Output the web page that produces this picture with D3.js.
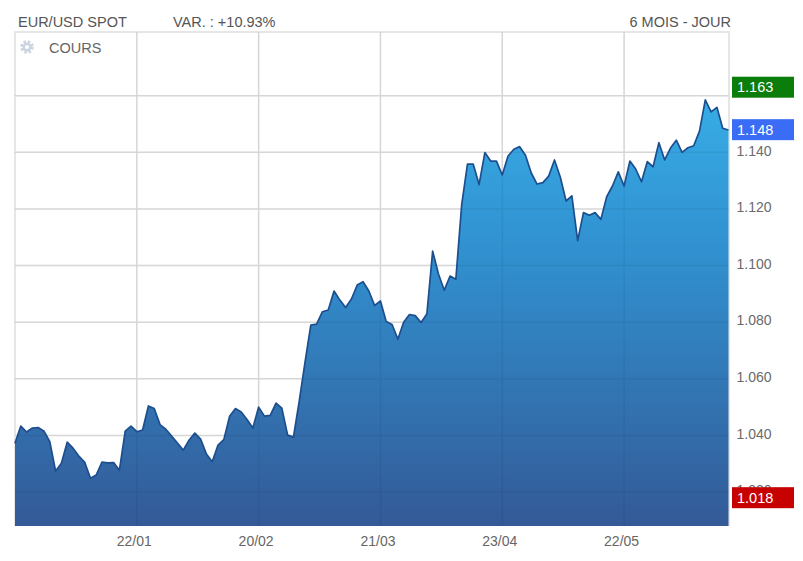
<!DOCTYPE html>
<html>
<head>
<meta charset="utf-8">
<script src="https://cdn.jsdelivr.net/npm/d3@7/dist/d3.min.js"></script>
<style>
  html, body { margin: 0; padding: 0; background: #ffffff; }
  svg { display: block; }
</style>
</head>
<body>
<svg id="chart" width="803" height="561"></svg>
<script>
// ---------------- DATA ----------------
const dates = [
  "20/12","23/12","24/12","26/12","27/12","30/12","31/12",
  "02/01","03/01","06/01","07/01","08/01","09/01","10/01","13/01","14/01","15/01","16/01","17/01","20/01","21/01","22/01","23/01","24/01","27/01","28/01","29/01","30/01","31/01",
  "03/02","04/02","05/02","06/02","07/02","10/02","11/02","12/02","13/02","14/02","17/02","18/02","19/02","20/02","21/02","24/02","25/02","26/02","27/02","28/02",
  "03/03","04/03","05/03","06/03","07/03","10/03","11/03","12/03","13/03","14/03","17/03","18/03","19/03","20/03","21/03","24/03","25/03","26/03","27/03","28/03","31/03",
  "01/04","02/04","03/04","04/04","07/04","08/04","09/04","10/04","11/04","14/04","15/04","16/04","17/04","22/04","23/04","24/04","25/04","28/04","29/04","30/04",
  "01/05","02/05","05/05","06/05","07/05","08/05","09/05","12/05","13/05","14/05","15/05","16/05","19/05","20/05","21/05","22/05","23/05","27/05","28/05","29/05","30/05",
  "02/06","03/06","04/06","05/06","06/06","09/06","10/06","11/06","12/06","13/06","16/06","17/06","18/06"
];

const closes = [
  1.0372,1.0433,1.0412,1.0426,1.0428,1.0415,1.0378,
  1.0274,1.0302,1.0376,1.0355,1.0327,1.0306,1.0249,1.0260,1.0306,1.0303,1.0304,1.0277,1.0415,1.0433,1.0413,1.0419,1.0504,1.0495,1.0438,1.0422,1.0398,1.0373,
  1.0348,1.0383,1.0408,1.0387,1.0334,1.0307,1.0366,1.0385,1.0468,1.0495,1.0483,1.0456,1.0426,1.0500,1.0468,1.0471,1.0514,1.0496,1.0401,1.0394,
  1.0521,1.0659,1.0790,1.0793,1.0837,1.0843,1.0910,1.0878,1.0852,1.0882,1.0931,1.0943,1.0910,1.0859,1.0875,1.0802,1.0792,1.0740,1.0800,1.0827,1.0823,
  1.0799,1.0829,1.1051,1.0970,1.0913,1.0963,1.0952,1.1214,1.1358,1.1358,1.1286,1.1399,1.1369,1.1369,1.1320,1.1387,1.1411,1.1420,1.1390,1.1327,
  1.1288,1.1293,1.1316,1.1373,1.1313,1.1228,1.1246,1.1088,1.1187,1.1178,1.1187,1.1163,1.1243,1.1281,1.1331,1.1281,1.1369,1.1341,1.1296,1.1367,1.1349,
  1.1434,1.1373,1.1415,1.1443,1.1400,1.1416,1.1423,1.1475,1.1585,1.1543,1.1559,1.1485,1.1479
];

const yTicks = [1.020, 1.040, 1.060, 1.080, 1.100, 1.120, 1.140, 1.160];
const yTickLabelsHidden = [1.160];   // covered by the high marker in the reference
const xTickLabels = ["22/01", "20/02", "21/03", "23/04", "22/05"];

const markerNames  = ["high", "last", "low"];
const markerValues = [1.163, 1.148, 1.018];

const headerTitle = "EUR/USD SPOT";
const headerVar = "VAR. : +10.93%";
const headerPeriod = "6 MOIS - JOUR";
const seriesName = "COURS";

// ---------------- STYLE / LAYOUT ----------------
const plot = { left: 15, right: 728.5, top: 32, bottom: 526 };
const markerColors = { high: "#0b7d0b", last: "#3b6cf5", low: "#c70000" };
const font = "'Liberation Sans', Arial, Helvetica, sans-serif";

const svg = d3.select("#chart");

const x = d3.scalePoint().domain(dates).range([plot.left, plot.right]).padding(0);
const y = d3.scaleLinear().domain([1.008, 1.1825]).range([plot.bottom, plot.top]);

// gradient
const defs = svg.append("defs");
const grad = defs.append("linearGradient")
  .attr("id", "areaGrad")
  .attr("gradientUnits", "userSpaceOnUse")
  .attr("x1", 0).attr("y1", plot.top).attr("x2", 0).attr("y2", plot.bottom);
grad.append("stop").attr("offset", "0%").attr("stop-color", "#39b8ef");
grad.append("stop").attr("offset", "45%").attr("stop-color", "#3190cf");
grad.append("stop").attr("offset", "100%").attr("stop-color", "#335a97");

// grid (under)
const gridColor = "#e3e3e3";
const gridG = svg.append("g");
gridG.selectAll("line.h").data(yTicks).enter().append("line")
  .attr("x1", plot.left).attr("x2", plot.right + 0.5)
  .attr("y1", d => y(d)).attr("y2", d => y(d))
  .attr("stroke", gridColor).attr("stroke-width", 1.5);
gridG.selectAll("line.v").data(xTickLabels).enter().append("line")
  .attr("x1", d => x(d)).attr("x2", d => x(d))
  .attr("y1", plot.top).attr("y2", plot.bottom)
  .attr("stroke", gridColor).attr("stroke-width", 1.5);

// frame
svg.append("path")
  .attr("d", `M${plot.left},${plot.bottom}V${plot.top}H${plot.right + 0.5}V${plot.bottom}`)
  .attr("fill", "none").attr("stroke", "#dedede").attr("stroke-width", 1.5);

// area + line
const series = dates.map((d, i) => ({ d, v: closes[i] }));
const area = d3.area().x(p => x(p.d)).y0(plot.bottom).y1(p => y(p.v));
const line = d3.line().x(p => x(p.d)).y(p => y(p.v));

svg.append("path").datum(series)
  .attr("d", area)
  .attr("fill", "url(#areaGrad)");

// faint grid over area
const gridTop = svg.append("g").attr("opacity", 0.05);
gridTop.selectAll("line.h").data(yTicks).enter().append("line")
  .attr("x1", plot.left).attr("x2", plot.right)
  .attr("y1", d => y(d)).attr("y2", d => y(d))
  .attr("stroke", "#000").attr("stroke-width", 1.5);
gridTop.selectAll("line.v").data(xTickLabels).enter().append("line")
  .attr("x1", d => x(d)).attr("x2", d => x(d))
  .attr("y1", plot.top).attr("y2", plot.bottom)
  .attr("stroke", "#000").attr("stroke-width", 1.5);

svg.append("path").datum(series)
  .attr("d", line)
  .attr("fill", "none")
  .attr("stroke", "#1d4e8e")
  .attr("stroke-width", 1.7)
  .attr("stroke-linejoin", "round");

// right axis
const yAxis = d3.axisRight(y)
  .tickValues(yTicks.filter(t => !yTickLabelsHidden.includes(t)))
  .tickFormat(d3.format(".3f"))
  .tickSizeInner(0).tickSizeOuter(0).tickPadding(8);
const yg = svg.append("g").attr("transform", `translate(${plot.right},0)`).call(yAxis);
yg.select(".domain").remove();
yg.selectAll("text")
  .attr("dy", "0.2em")
  .attr("fill", "#6a6a6a")
  .style("font-family", font)
  .style("font-size", "14px");

// bottom axis
const xAxis = d3.axisBottom(x).tickValues(xTickLabels).tickSizeInner(0).tickSizeOuter(0).tickPadding(10);
const xg = svg.append("g").attr("transform", `translate(0,${plot.bottom})`).call(xAxis);
xg.select(".domain").remove();
xg.selectAll("text")
  .attr("dx", "-3")
  .attr("fill", "#666")
  .style("font-family", font)
  .style("font-size", "14px");

// value markers
const mk = svg.append("g");
markerNames.forEach((name, i) => {
  const cy = y(markerValues[i]);
  mk.append("rect")
    .attr("x", 732).attr("y", cy - 10.5)
    .attr("width", 62).attr("height", 21)
    .attr("fill", markerColors[name]);
  mk.append("text")
    .attr("x", 737).attr("y", cy).attr("dy", "0.36em")
    .attr("fill", "#ffffff")
    .style("font-family", font).style("font-size", "14.5px")
    .text(d3.format(".3f")(markerValues[i]));
});

// header
const hdr = svg.append("g").style("font-family", font).style("font-size", "14.5px").attr("fill", "#555");
hdr.append("text").attr("x", 18).attr("y", 27).text(headerTitle);
hdr.append("text").attr("x", 173).attr("y", 27).text(headerVar);
hdr.append("text").attr("x", 731).attr("y", 27).attr("text-anchor", "end").text(headerPeriod);

// series label with gear icon
const gear = svg.append("g").attr("transform", "translate(27,47)");
gear.append("circle").attr("r", 5.2).attr("fill", "none")
  .attr("stroke", "#c9d4df").attr("stroke-width", 3.2)
  .attr("stroke-dasharray", "2.4 1.7");
gear.append("circle").attr("r", 4.6).attr("fill", "#c9d4df");
gear.append("circle").attr("r", 2.1).attr("fill", "#ffffff");
svg.append("text").attr("x", 49).attr("y", 53)
  .attr("fill", "#666")
  .style("font-family", font).style("font-size", "14.5px")
  .text(seriesName);
</script>
</body>
</html>
